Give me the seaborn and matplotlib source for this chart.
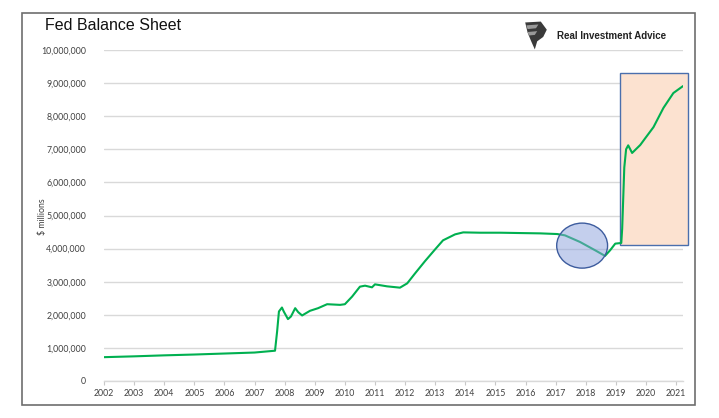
import matplotlib
matplotlib.use("Agg")
import matplotlib.pyplot as plt
import seaborn as sns
import pandas as pd
from matplotlib.patches import Ellipse, Rectangle, Polygon

# ---- data ($ millions) ----
years = [2002.0, 2003.0, 2004.0, 2005.0, 2006.0, 2007.0, 2007.68, 2007.75, 2007.81,
         2007.91, 2007.97, 2008.11, 2008.21, 2008.35, 2008.45, 2008.58, 2008.84,
         2009.11, 2009.41, 2009.84, 2010.0, 2010.24, 2010.5, 2010.67, 2010.9,
         2011.0, 2011.4, 2011.83, 2012.07, 2012.33, 2012.66, 2013.0, 2013.26,
         2013.66, 2013.93, 2014.5, 2015.16, 2015.8, 2016.49, 2017.05, 2017.31,
         2017.81, 2018.31, 2018.64, 2018.81, 2018.98, 2019.18, 2019.21, 2019.28,
         2019.34, 2019.41, 2019.54, 2019.81, 2019.98, 2020.25, 2020.58, 2020.91,
         2021.23]
balance = [720000, 745000, 775000, 800000, 830000, 860000, 915000, 1500000, 2100000,
           2220000, 2100000, 1870000, 1950000, 2200000, 2080000, 1980000, 2120000,
           2200000, 2320000, 2300000, 2320000, 2550000, 2850000, 2880000, 2830000,
           2920000, 2860000, 2820000, 2950000, 3250000, 3620000, 3980000, 4250000,
           4430000, 4490000, 4480000, 4480000, 4470000, 4460000, 4440000, 4400000,
           4200000, 3950000, 3780000, 3950000, 4150000, 4170000, 4600000, 6450000,
           7000000, 7120000, 6890000, 7130000, 7340000, 7670000, 8250000, 8700000,
           8910000]
xtick_years = list(range(2002, 2022))
ytick_values = list(range(0, 10000001, 1000000))
title = "Fed Balance Sheet"
ylabel = "$ millions"
brand = "Real Investment Advice"

df = pd.DataFrame({"year": years, "balance": balance})

sns.set_theme(style="white")
plt.rcParams["font.family"] = ["Lato", "DejaVu Sans"]

W, H = 719, 418
fig = plt.figure(figsize=(W / 100, H / 100), dpi=100)
fig.patch.set_facecolor("white")

def px(x0, y0, x1, y1):
    return [x0 / W, 1 - y1 / H, (x1 - x0) / W, (y1 - y0) / H]

ax = fig.add_axes(px(104, 50, 683, 381))
ax.set_facecolor("none")

# highlight rectangle (behind line)
ax.add_patch(Rectangle((2019.14, 4110000), 2021.40 - 2019.14, 9300000 - 4110000,
                       facecolor="#fce2d0", edgecolor="#4a6fad", lw=1.0,
                       zorder=1, clip_on=False))

sns.lineplot(data=df, x="year", y="balance", ax=ax, color="#00b050", lw=1.5,
             zorder=3, estimator=None, sort=False)

# highlight ellipse (over line, translucent)
ax.add_patch(Ellipse((2017.88, 4090000), 1.69, 1360000,
                     facecolor=(0.545, 0.63, 0.867, 0.5), edgecolor="#3d5c9e",
                     lw=1.0, zorder=4, clip_on=False))

ax.set_xlim(2002, 2021.23)
ax.set_ylim(0, 10000000)
ax.set_xticks(xtick_years)
ax.set_xticklabels([str(y) for y in xtick_years])
ax.set_yticks(ytick_values)
ax.set_yticklabels([f"{v:,}" for v in ytick_values])
ax.yaxis.grid(True, color="#d9d9d9", lw=1.0)
ax.set_axisbelow(True)
for s in ["top", "right", "left"]:
    ax.spines[s].set_visible(False)
ax.spines["bottom"].set_color("#d9d9d9")
ax.spines["bottom"].set_linewidth(1.0)
ax.tick_params(axis="x", bottom=True, length=3, width=0.8, color="#c8c8c8",
               labelsize=6.3, labelcolor="#404040", pad=3)
ax.tick_params(axis="y", left=False, labelsize=6.3, labelcolor="#404040", pad=7)
ax.set_xlabel("")
ax.set_ylabel("")

fig.text(43 / W, 1 - 217 / H, ylabel, rotation=90, ha="center", va="center",
         fontsize=6.3, color="#404040")

# title
fig.text(45 / W, 1 - 26 / H, title, ha="left", va="center", fontsize=11.5,
         color="#111111", family=["Liberation Sans", "DejaVu Sans"])

# brand
fig.text(557 / W, 1 - 36 / H, brand, ha="left", va="center", fontsize=7,
         fontweight="bold", color="#222222", family=["Liberation Sans", "DejaVu Sans"])
lax = fig.add_axes(px(524, 21, 548, 50))
lax.set_xlim(0, 1)
lax.set_ylim(0, 1)
lax.axis("off")
lax.add_patch(Polygon([(0.05, 0.95), (0.7, 0.98), (0.95, 0.7), (0.8, 0.45),
                       (0.55, 0.3), (0.45, 0.02), (0.3, 0.3), (0.15, 0.6)],
                      closed=True, facecolor="#3a3a3a", edgecolor="none"))
lax.add_patch(Polygon([(0.1, 0.85), (0.6, 0.88), (0.5, 0.75), (0.15, 0.72)],
                      closed=True, facecolor="#9a9a9a", edgecolor="none"))
lax.add_patch(Polygon([(0.15, 0.62), (0.55, 0.65), (0.45, 0.52), (0.2, 0.5)],
                      closed=True, facecolor="#9a9a9a", edgecolor="none"))

# outer frame
fig.patches.append(Rectangle((22 / W, 1 - 405 / H), (695 - 22) / W, (405 - 13) / H,
                             transform=fig.transFigure, fill=False,
                             edgecolor="#6e6e6e", lw=1.2))

fig.savefig("out.png", dpi=100)
